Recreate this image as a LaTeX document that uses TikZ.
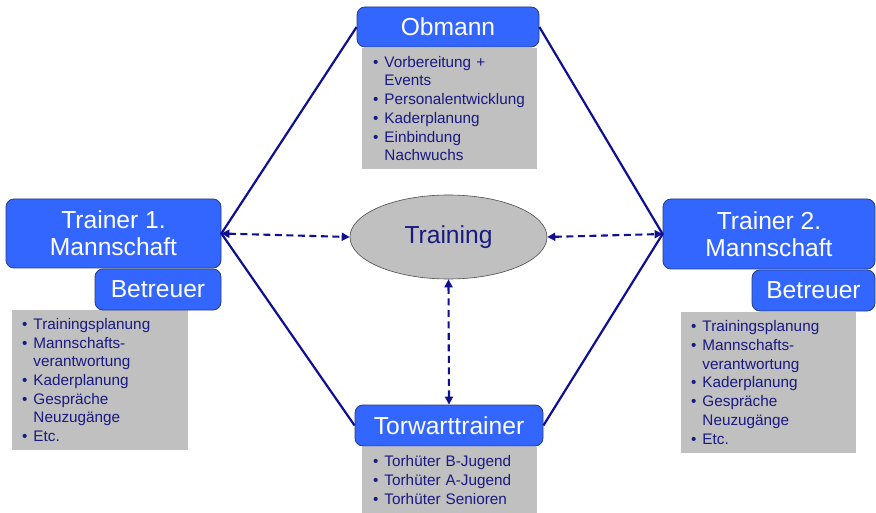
\documentclass[tikz,border=0pt]{standalone}
\usepackage{fontspec}
\setmainfont{Liberation Sans}
\usetikzlibrary{shapes.geometric,arrows.meta}
\definecolor{boxblue}{RGB}{51,102,255}
\definecolor{boxedge}{RGB}{40,60,120}
\definecolor{graybox}{RGB}{192,192,192}
\definecolor{navy}{RGB}{15,15,145}
\definecolor{txtnavy}{RGB}{25,25,130}
\newcommand{\bl}{\textbullet\hspace{0.4em}}
\newcommand{\ind}{\hphantom{\textbullet\hspace{0.4em}}}
\tikzset{
  bluebox/.style={draw=boxedge, line width=0.8pt, fill=boxblue, rounded corners=8pt,
    text=white, font=\fontsize{24.6}{27}\selectfont, align=center, inner sep=0pt},
  graylist/.style={fill=graybox, text=txtnavy, font=\fontsize{15.3}{18.7}\selectfont,
    align=left, inner sep=0pt},
  solidcon/.style={draw=navy, line width=2.2pt},
  dashcon/.style={draw=navy, line width=2.1pt, dash pattern=on 7pt off 4.5pt,
    {Triangle[length=8pt,width=8pt]}-{Triangle[length=8pt,width=8pt]}}
}
\begin{document}
\begin{tikzpicture}[x=1pt,y=-1pt]
\useasboundingbox (0,0) rectangle (876,513);
% gray lists
\node[graylist, minimum width=175pt, minimum height=121pt, text width=153pt] (obg) at (449.5,108.5)
 {\bl Vorbereitung +\\\ind Events\\\bl Personalentwicklung\\\bl Kaderplanung\\\bl Einbindung\\\ind Nachwuchs};
\node[graylist, minimum width=176pt, minimum height=140pt, text width=156pt] (lg) at (100,380)
 {\bl Trainingsplanung\\\bl Mannschafts-\\\ind verantwortung\\\bl Kaderplanung\\\bl Gespräche\\\ind Neuzugänge\\\bl Etc.};
\node[graylist, minimum width=175pt, minimum height=141pt, text width=155pt] (rg) at (768.5,382.5)
 {\bl Trainingsplanung\\\bl Mannschafts-\\\ind verantwortung\\\bl Kaderplanung\\\bl Gespräche\\\ind Neuzugänge\\\bl Etc.};
\node[graylist, minimum width=175pt, minimum height=67pt, text width=153pt] (tg) at (449.5,480)
 {\bl Torhüter B-Jugend\\\bl Torhüter A-Jugend\\\bl Torhüter Senioren};
% blue boxes
\node[bluebox, minimum width=182pt, minimum height=40pt] (obmann) at (448,27) {Obmann};
\node[bluebox, minimum width=215pt, minimum height=69pt] (t1) at (113.5,233.5) {Trainer 1.\\Mannschaft};
\node[bluebox, minimum width=126pt, minimum height=41pt] (b1) at (158,289.5) {Betreuer};
\node[bluebox, minimum width=212pt, minimum height=70pt] (t2) at (769,234) {Trainer 2.\\Mannschaft};
\node[bluebox, minimum width=123pt, minimum height=41pt] (b2) at (813.5,290.5) {Betreuer};
\node[bluebox, minimum width=188pt, minimum height=41pt] (tw) at (449,425.5) {Torwarttrainer};
% ellipse
\node[ellipse, draw=black!70, line width=0.6pt, fill=graybox, minimum width=197pt, minimum height=84pt,
  inner sep=0pt, text=txtnavy, font=\fontsize{24.6}{27}\selectfont] (training) at (448.5,237) {Training};
% solid connectors
\draw[solidcon] (obmann.west) -- (t1.east) -- (tw.west);
\draw[solidcon] (obmann.east) -- (t2.west) -- (tw.east);
% dashed connectors
\draw[dashcon] (t1.east) -- (training.west);
\draw[dashcon] (training.east) -- (t2.west);
\draw[dashcon] (training.south) -- (tw.north);
\end{tikzpicture}
\end{document}
